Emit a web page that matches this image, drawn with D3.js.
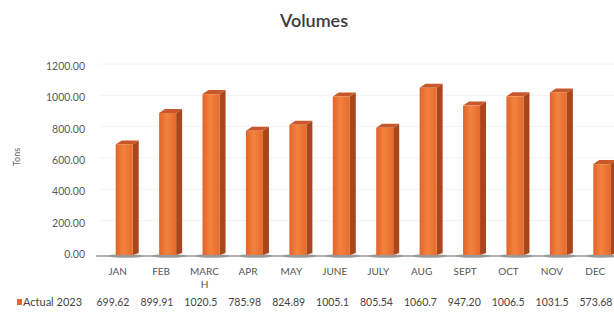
<!DOCTYPE html>
<html>
<head>
<meta charset="utf-8">
<script src="https://cdn.jsdelivr.net/npm/d3@7"></script>
<style>
	body { margin: 0; background: #fff; }
	svg { display: block; font-family: Lato, "Open Sans", sans-serif; }
</style>
</head>
<body>
<div id="chart"></div>
<script>
// chart data
var months = ["JAN", "FEB", "MARCH", "APR", "MAY", "JUNE", "JULY", "AUG", "SEPT", "OCT", "NOV", "DEC"];
var actual2023 = [699.62, 899.91, 1020.5, 785.98, 824.89, 1005.1, 805.54, 1060.7, 947.20, 1006.5, 1031.5, 573.68];
var tableLabels = ["699.62", "899.91", "1020.5", "785.98", "824.89", "1005.1", "805.54", "1060.7", "947.20", "1006.5", "1031.5", "573.68"];
var yTicks = [0, 200, 400, 600, 800, 1000, 1200];
var seriesName = "Actual 2023";

var width = 614,
	height = 315,
	FRONT = 17,
	SIDE = 6,
	DEPTH = 4;

var svg = d3.select("#chart").append("svg")
	.attr("width", width)
	.attr("height", height);

var defs = svg.append("defs");

var grad = defs.append("linearGradient")
	.attr("id", "front")
	.attr("x1", "0%").attr("x2", "100%")
	.attr("y1", "0%").attr("y2", "0%");
grad.append("stop").attr("offset", "0%").attr("stop-color", "#e0642a");
grad.append("stop").attr("offset", "45%").attr("stop-color", "#f3823f");
grad.append("stop").attr("offset", "100%").attr("stop-color", "#e56b2c");

var x = d3.scaleBand()
	.domain(months)
	.range([96, 617]);

var y = d3.scaleLinear()
	.domain([0, 1200])
	.range([254, 66]);

// title
svg.append("text")
	.attr("x", 314)
	.attr("y", 27)
	.attr("text-anchor", "middle")
	.style("font-size", "18px")
	.style("font-weight", "600")
	.style("fill", "#3a3a3a")
	.text("Volumes");

// y axis title
svg.append("text")
	.attr("transform", "translate(20,157) rotate(-90)")
	.attr("text-anchor", "middle")
	.style("font-size", "9px")
	.style("fill", "#666")
	.text("Tons");

// gridlines
svg.append("g")
	.selectAll("line")
	.data(yTicks.slice(1))
	.enter()
	.append("line")
	.attr("x1", 100)
	.attr("x2", width)
	.attr("y1", function(d) { return y(d) - 2; })
	.attr("y2", function(d) { return y(d) - 2; })
	.style("stroke", "#f2f2f2")
	.style("stroke-width", "1px");

// y axis labels
var yAxis = d3.axisLeft(y)
	.tickValues(yTicks)
	.tickFormat(d3.format(".2f"))
	.tickSize(0)
	.tickPadding(0);

var gy = svg.append("g")
	.attr("transform", "translate(85,0)")
	.call(yAxis);
gy.select(".domain").remove();
gy.selectAll("text")
	.style("font-size", "10.5px")
	.style("fill", "#5a5a5a")
	.style("font-family", "Lato, sans-serif");

// floor
svg.append("line")
	.attr("x1", 96)
	.attr("x2", width)
	.attr("y1", y(0) + 2)
	.attr("y2", y(0) + 2)
	.style("stroke", "#b0b0b0")
	.style("stroke-width", "2px");

svg.append("g")
	.selectAll("ellipse")
	.data(months)
	.enter()
	.append("ellipse")
	.attr("cx", function(d) { return x(d) + x.bandwidth() / 2 + 8; })
	.attr("cy", y(0) + 2)
	.attr("rx", 17)
	.attr("ry", 2)
	.style("fill", "#8a8a8a")
	.style("opacity", 0.6);

// bars
var bars = svg.append("g")
	.selectAll("g")
	.data(months)
	.enter()
	.append("g")
	.attr("transform", function(d) {
		return "translate(" + (x(d) + x.bandwidth() / 2 - 2) + ",0)";
	});

// side face
bars.append("path")
	.attr("d", function(d, i) {
		var top = y(actual2023[i]);
		return "M" + FRONT + "," + (y(0) + 1) +
			"L" + FRONT + "," + top +
			"L" + (FRONT + SIDE) + "," + (top - DEPTH) +
			"L" + (FRONT + SIDE) + "," + (y(0) - 1) + "Z";
	})
	.style("fill", "#a9461b");

// top face
bars.append("path")
	.attr("d", function(d, i) {
		var top = y(actual2023[i]);
		return "M0," + top +
			"L" + SIDE + "," + (top - DEPTH) +
			"L" + (FRONT + SIDE) + "," + (top - DEPTH) +
			"L" + FRONT + "," + top + "Z";
	})
	.style("fill", "#c8572a");

// front face
bars.append("rect")
	.attr("x", 0)
	.attr("y", function(d, i) { return y(actual2023[i]); })
	.attr("width", FRONT)
	.attr("height", function(d, i) { return y(0) + 1 - y(actual2023[i]); })
	.style("fill", "url(#front)");

// month labels (MARCH wraps onto two lines)
var labels = svg.append("g")
	.selectAll("text")
	.data(months)
	.enter()
	.append("text")
	.attr("x", function(d) { return x(d) + x.bandwidth() / 2; })
	.attr("y", 275)
	.attr("text-anchor", "middle")
	.style("font-size", "10px")
	.style("fill", "#555");

labels.each(function(d) {
	var t = d3.select(this);
	var parts = d.length > 4 && d != "SEPT" ? [d.slice(0, 4), d.slice(4)] : [d];
	parts.forEach(function(p, k) {
		t.append("tspan")
			.attr("x", t.attr("x"))
			.attr("dy", k == 0 ? 0 : 13)
			.text(p);
	});
});

// data table row
var tx = d3.scalePoint()
	.domain(months)
	.range([113, 596]);

svg.append("rect")
	.attr("x", 17)
	.attr("y", 299)
	.attr("width", 5)
	.attr("height", 6)
	.style("fill", "#e3672c");

svg.append("text")
	.attr("x", 23)
	.attr("y", 306)
	.style("font-size", "11px")
	.style("fill", "#444")
	.text(seriesName);

svg.append("g")
	.selectAll("text")
	.data(tableLabels)
	.enter()
	.append("text")
	.attr("x", function(d, i) { return tx(months[i]); })
	.attr("y", 306)
	.attr("text-anchor", "middle")
	.style("font-size", "10.5px")
	.style("fill", "#444")
	.text(function(d) { return d; });
</script>
</body>
</html>
